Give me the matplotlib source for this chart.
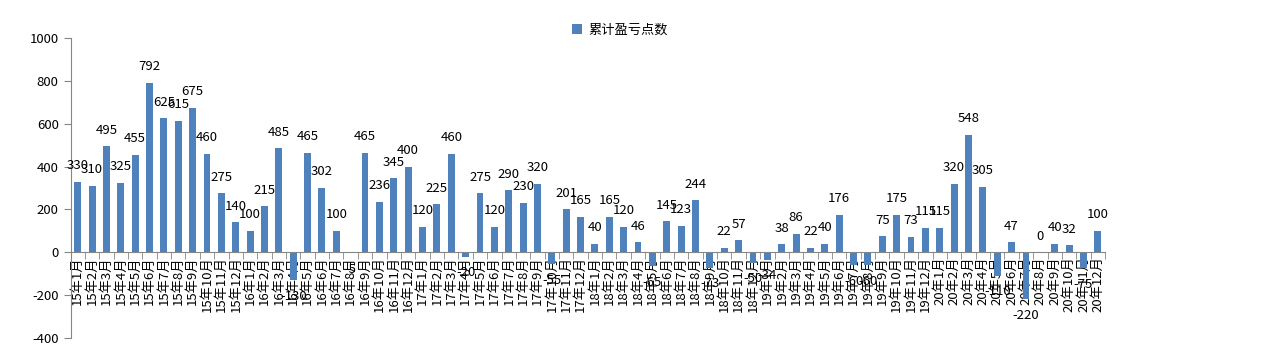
import matplotlib
matplotlib.use("Agg")
import matplotlib.pyplot as plt
import numpy as np

plt.rcParams['font.family'] = ['Noto Sans CJK SC', 'DejaVu Sans']
plt.rcParams['axes.unicode_minus'] = False

# monthly points, 2015-01 .. 2020-12
years = ['15', '16', '17', '18', '19', '20']
months = [f'{y}年{m}月' for y in years for m in range(1, 13)]
points = [
    330, 310, 495, 325, 455, 792, 625, 615, 675, 460, 275, 140,
    100, 215, 485, -130, 465, 302, 100, -5, 465, 236, 345, 400,
    120, 225, 460, -20, 275, 120, 290, 230, 320, -55, 201, 165,
    40, 165, 120, 46, -65, 145, 123, 244, -73, 22, 57, -50,
    -34, 38, 86, 22, 40, 176, -60, -60, 75, 175, 73, 115,
    115, 320, 548, 305, -110, 47, -220, 0, 40, 32, -75, 100,
]
series_name = '累计盈亏点数'

bar_color = '#4F81BD'
axis_color = '#868686'

fig = plt.figure(figsize=(12.8, 3.46), dpi=100)
ax = fig.add_axes([70.5 / 1280, 1 - 338 / 346, (1105 - 70.5) / 1280, 300 / 346])

x = np.arange(len(months))
bars = ax.bar(x, points, width=0.48, color=bar_color, label=series_name, zorder=2)

ax.set_xlim(-0.5, len(months) - 0.5)
ax.set_ylim(-400, 1000)
ax.set_yticks(range(-400, 1001, 200))

for side in ('top', 'right'):
    ax.spines[side].set_visible(False)
ax.spines['left'].set_color(axis_color)
ax.spines['bottom'].set_color(axis_color)
ax.spines['bottom'].set_position(('data', 0))

ax.tick_params(axis='y', colors=axis_color, length=5, labelsize=9.5, labelcolor='black')
ax.set_xticks(x)
ax.set_xticklabels(months, rotation=90, fontsize=9.5)
ax.tick_params(axis='x', which='major', length=0, pad=3)
ax.set_xticks(np.arange(-0.5, len(months), 1), minor=True)
ax.tick_params(axis='x', which='minor', length=5, color=axis_color)
for lbl in ax.get_xticklabels():
    lbl.set_verticalalignment('top')

# value labels above positive bars, below negative ones
for xi, v in zip(x, points):
    off = -16 if v < 0 else 16
    ax.annotate(str(v), (xi, v), xytext=(0, off), textcoords='offset pixels',
                ha='center', va='center', fontsize=9.5, zorder=3)

fig.legend(handles=[bars], labels=[series_name], loc='center',
           bbox_to_anchor=(620 / 1280, 1 - 30 / 346), frameon=False,
           fontsize=9.5, handlelength=0.7, handleheight=0.7, handletextpad=0.5)

fig.savefig('out.png', dpi=100)
